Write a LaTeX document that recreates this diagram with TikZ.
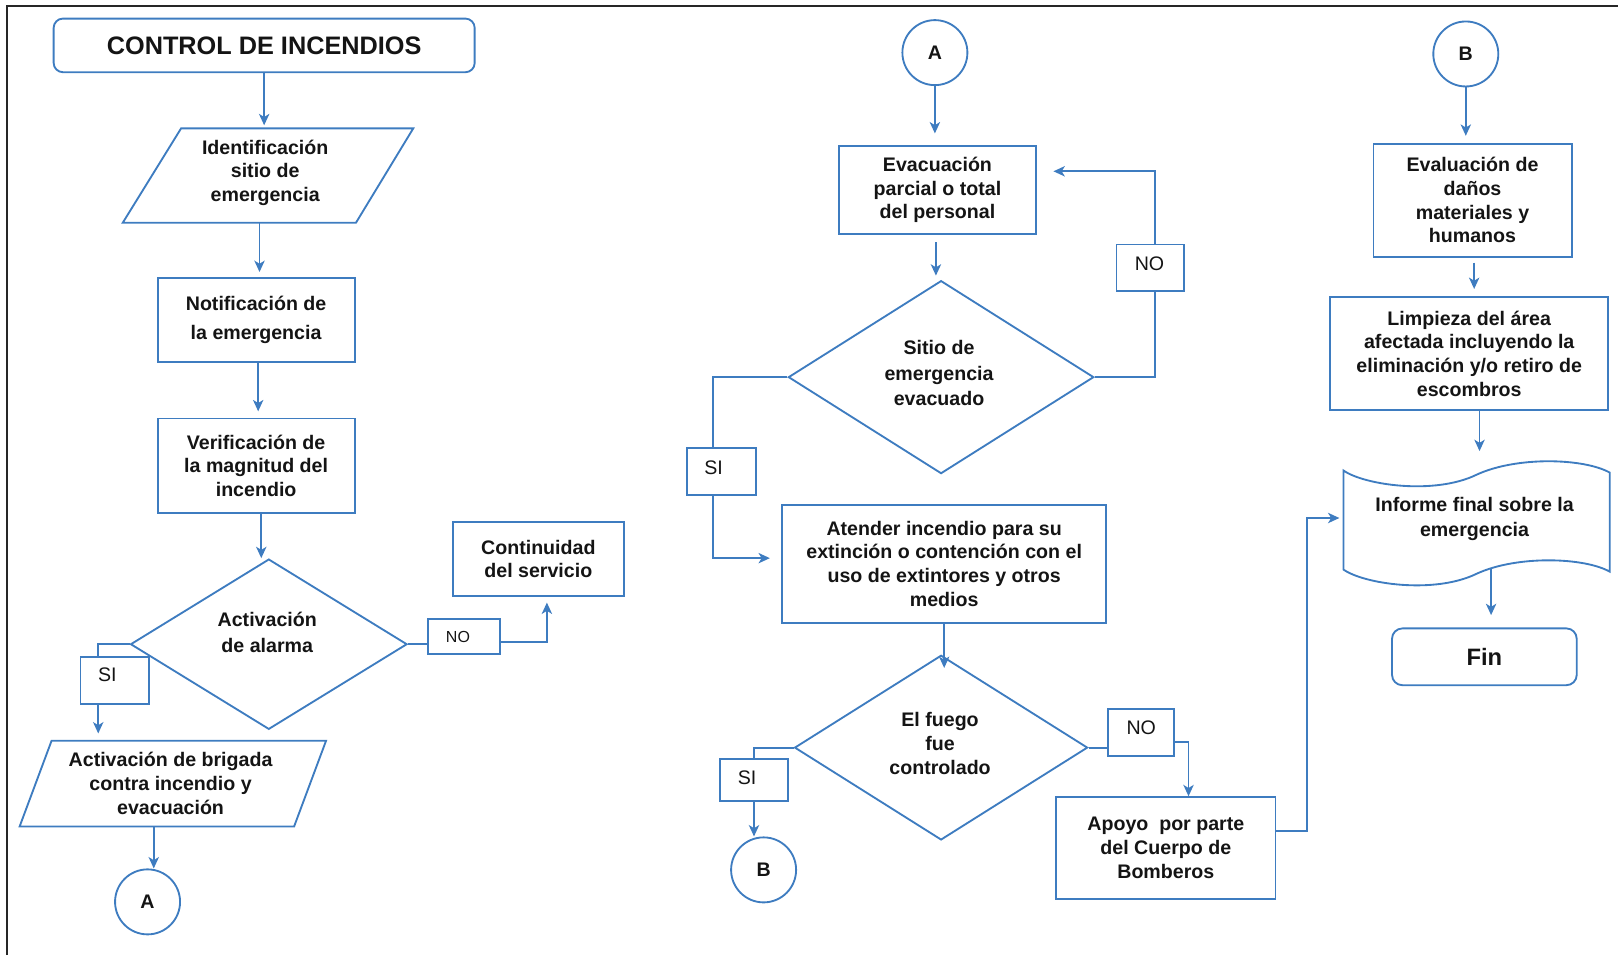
\documentclass[tikz,border=0pt]{standalone}
\usepackage{fontspec}
\setmainfont{Liberation Sans}
\usetikzlibrary{arrows.meta,calc,shapes.geometric}
\definecolor{fblue}{RGB}{62,124,192}
\definecolor{ink}{RGB}{20,20,20}
\newcommand\fcBody{\bfseries\fontsize{19}{23}\selectfont}
\newcommand\fcTitle{\bfseries\fontsize{24.5}{28}\selectfont}
\newcommand\fcFin{\bfseries\fontsize{23}{26}\selectfont}
\newcommand\fcLbl{\fontsize{19}{22}\selectfont}
\newcommand\fcLblS{\fontsize{15.5}{18}\selectfont}

\begin{document}
\begin{tikzpicture}[x=1pt,y=-1pt,
  every node/.style={text=ink},
  fl/.style={draw=fblue,line width=1.8pt},
  arr/.style={fl,-{Stealth[length=11pt,width=10pt,inset=3pt]}},
  proc/.style={fl,rectangle,inner sep=0pt,align=center,font=\fcBody},
  term/.style={proc,rounded corners=9pt},
  dec/.style={fl,diamond,inner sep=0pt},
  conn/.style={fl,circle,inner sep=0pt,minimum size=63pt,font=\fcBody},
  tag/.style={fl,rectangle,inner sep=0pt},
  tagtext/.style={inner sep=0pt,font=\fcLbl},
  txt/.style={inner sep=0pt,align=center,font=\fcBody},
]
\useasboundingbox (0,0) rectangle (1568,925.5);

% page frame (top and left rules)
\draw[line width=2pt,color=black!85] (6.5,925.5) -- (6.5,5.5) -- (1568,5.5);

% ---------------- left column ----------------
\node[term,minimum width=408pt,minimum height=52pt,font=\fcTitle] (title) at (256,44) {CONTROL DE INCENDIOS};

\node[txt] (p1) at (257,167.5) {Identificación\\sitio de\\emergencia};
\draw[fl] (175.5,124.4) -- (400.5,124.4) -- (345,215.8) -- (119,215.8) -- cycle;
\coordinate (p1n) at (256,124.4);
\coordinate (p1s) at (251.5,215.8);

\node[proc,minimum width=191pt,minimum height=81pt] (n) at (248.2,310) {Notificación de\\[6pt]la emergencia};
\node[proc,minimum width=191pt,minimum height=92pt] (v) at (248.2,451.5) {Verificación de\\la magnitud del\\incendio};

\node[dec,minimum width=268pt,minimum height=165pt] (d1) at (260.5,624.3) {};
\node[txt] (d1t) at (259,613.2) {Activación\\[2pt]de alarma};

\node[tag,minimum width=66.4pt,minimum height=45.8pt] (s1) at (111.2,659.3) {};
\node[tagtext] (s1t) at (104,654) {SI};

\node[txt] (p2) at (165.3,759.3) {Activación de brigada\\contra incendio y\\evacuación};
\draw[fl] (50,717.8) -- (316,717.8) -- (285,801) -- (19,801) -- cycle;
\coordinate (p2n) at (95.2,717.8);
\coordinate (p2s) at (149,801);

\node[conn] (cA) at (143,874) {A};

\node[tag,minimum width=70pt,minimum height=33.8pt] (no1) at (449.6,616.9) {};
\node[tagtext,font=\fcLblS] (no1t) at (443.8,617) {NO};
\node[proc,minimum width=165.4pt,minimum height=71.3pt] (cont) at (521.7,541.7) {Continuidad\\del servicio};

\draw[arr,shorten >=3pt] (title.south) -- (p1n);
\draw[arr,shorten >=5pt] (p1s) -- (p1s |- n.north);
\draw[arr,shorten >=6pt] ([xshift=2pt]n.south) -- ([xshift=2pt]n.south |- v.north);
\draw[arr] ([xshift=5pt]v.south) -- ([xshift=5pt]v.south |- d1.north);
\draw[fl] (d1.west) -| ([xshift=-16pt]s1.north);
\draw[arr,shorten >=7pt] (p2n |- s1.south) -- (p2n);
\draw[fl] (d1.east) -- (no1.west |- d1.east);
\draw[arr,shorten >=5.7pt] ([yshift=-5.6pt]no1.east) -| ([xshift=8.3pt]cont.south);
\draw[arr] (p2s) -- (p2s |- cA.north);

% ---------------- middle column ----------------
\node[conn] (cA2) at (906,51) {A};
\node[proc,minimum width=191pt,minimum height=85.6pt] (ev) at (908.5,184) {Evacuación\\parcial o total\\del personal};
\node[dec,minimum width=296pt,minimum height=187pt] (d2) at (912,365.5) {};
\node[txt] (d2t) at (910,361.5) {Sitio de\\[1.5pt]emergencia\\[1.5pt]evacuado};
\node[tag,minimum width=65pt,minimum height=45pt] (no2) at (1114.5,259.5) {};
\node[tagtext] (no2t) at (1114,255.5) {NO};
\node[tag,minimum width=67pt,minimum height=45.7pt] (si2) at (699.5,456.8) {};
\node[tagtext] (si2t) at (691.5,453) {SI};
\node[proc,minimum width=314pt,minimum height=114.4pt] (at) at (915,546.2) {Atender incendio para su\\extinción o contención con el\\uso de extintores y otros\\medios};
\node[dec,minimum width=284pt,minimum height=179pt] (d3) at (912,724.5) {};
\node[txt] (d3t) at (911,720.4) {El fuego\\fue\\controlado};
\node[tag,minimum width=65.4pt,minimum height=40.4pt] (si3) at (730.7,755.8) {};
\node[tagtext] (si3t) at (724,754) {SI};
\node[conn] (cB) at (740,843) {B};
\node[tag,minimum width=64pt,minimum height=45.6pt] (no3) at (1106,709.8) {};
\node[tagtext] (no3t) at (1106,705.6) {NO};
\node[proc,minimum width=212.4pt,minimum height=98.5pt] (ap) at (1129.8,821.8) {Apoyo~~por parte\\del Cuerpo de\\Bomberos};

\draw[arr,shorten >=11pt] (cA2.south) -- (cA2.south |- ev.north);
\draw[arr,shorten <=7pt,shorten >=4pt] ([xshift=-1.5pt]ev.south) -- ([xshift=-1.5pt]ev.south |- d2.north);
\draw[fl] (d2.east) -| ([xshift=4.5pt]no2.south);
\draw[arr,shorten >=16pt] ([xshift=4.5pt]no2.north) |- ([yshift=18pt]ev.east);
\draw[fl] (d2.west) -| ([xshift=-8.5pt]si2.north);
\draw[arr,shorten >=11pt] ([xshift=-8.5pt]si2.south) |- ([yshift=5.3pt]at.west);
\draw[arr] (at.south) -- ++(0,43);
\draw[fl] (d3.west) -| (si3.north);
\draw[arr] (si3.south) -- (si3.south |- cB.north);
\draw[fl] (d3.east) -- (no3.west |- d3.east);
\draw[arr] ([yshift=-9pt]no3.east) -| ([xshift=22pt]ap.north);

% ---------------- right column ----------------
\node[conn] (cB2) at (1420.5,52.3) {B};
\node[proc,minimum width=192pt,minimum height=109.2pt] (ev2) at (1427,194.1) {Evaluación de\\daños\\materiales y\\humanos};
\node[proc,minimum width=269.6pt,minimum height=109.3pt] (lim) at (1423.8,342.6) {Limpieza del área\\afectada incluyendo la\\eliminación y/o retiro de\\escombros};

\node[txt] (inf) at (1429,503) {Informe final sobre la\\[1pt]emergencia};
\draw[fl] (1302,456) .. controls (1322,470) and (1390,480) .. (1431,460)
  .. controls (1470,442) and (1535,444) .. (1560,458) -- (1560,554)
  .. controls (1535,540) and (1470,538) .. (1431,556)
  .. controls (1390,576) and (1322,566) .. (1302,552) -- cycle;
\coordinate (infw) at (1302,502);
\coordinate (infs) at (1445,551);

\node[term,minimum width=179pt,minimum height=55pt,font=\fcFin,rounded corners=10pt] (fin) at (1438.5,636.5) {Fin};

\draw[arr,shorten >=7pt] (cB2.south) -- (cB2.south |- ev2.north);
\draw[arr,shorten <=5pt,shorten >=7pt] ([xshift=1.6pt]ev2.south) -- ([xshift=1.6pt]ev2.south |- lim.north);
\draw[arr] ([xshift=10pt]lim.south) -- ++(0,39);
\draw[arr,shorten >=12pt] (infs) -- (infs |- fin.north);
\draw[arr,shorten >=4pt] ([yshift=16.8pt]ap.east) -- ++(30,0) |- (infw);

\end{tikzpicture}
\end{document}
